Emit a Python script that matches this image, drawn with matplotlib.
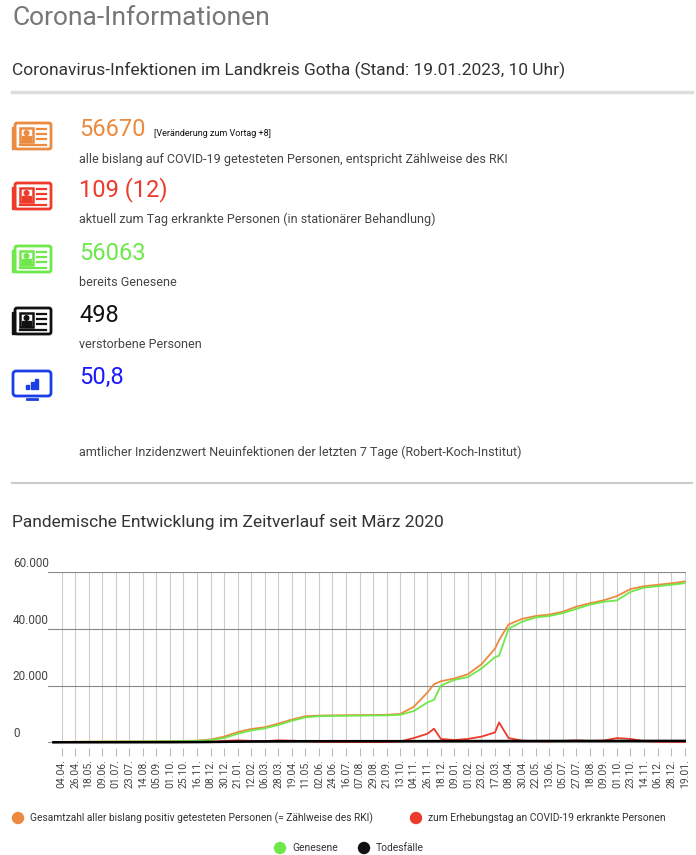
import matplotlib
matplotlib.use("Agg")
import matplotlib.pyplot as plt
from matplotlib.patches import FancyBboxPatch, Rectangle

plt.rcParams['font.family'] = ['Roboto', 'DejaVu Sans']

# x tick labels (category axis)
tick_labels = ['04.04.', '26.04.', '18.05.', '09.06.', '01.07.', '23.07.', '14.08.', '05.09.',
               '01.10.', '25.10.', '16.11.', '08.12.', '30.12.', '21.01.', '12.02.', '06.03.',
               '28.03.', '19.04.', '11.05.', '02.06.', '24.06.', '16.07.', '07.08.', '29.08.',
               '21.09.', '13.10.', '04.11.', '26.11.', '18.12.', '09.01.', '01.02.', '23.02.',
               '17.03.', '08.04.', '30.04.', '22.05.', '13.06.', '05.07.', '27.07.', '18.08.',
               '09.09.', '01.10.', '23.10.', '14.11.', '06.12.', '28.12.', '19.01.']

# series sampled at tick positions (index), first point a bit before 04.04.
pos = [-0.6, 0, 2, 4, 6, 8, 10, 11, 12, 13, 14, 15, 16, 17, 18, 19, 20, 22, 24, 25, 26,
       27, 27.5, 28, 29, 30, 31, 32, 32.3, 33, 34, 35, 36, 37, 38, 39, 40, 41, 42, 43, 44, 45, 46]
total = [50, 150, 250, 300, 350, 400, 600, 1000, 2000, 3600, 4700, 5300, 6600, 8000, 9200, 9400, 9500,
         9600, 9700, 10000, 12500, 17500, 20500, 21500, 22500, 24000, 27500, 33000, 36000, 41500, 43500,
         44500, 45000, 46000, 47800, 49000, 50000, 51500, 54000, 55000, 55500, 56000, 56670]
genesene = [0, 100, 200, 250, 300, 350, 500, 800, 1500, 3000, 4200, 4900, 6100, 7600, 8800, 9200, 9300,
            9400, 9500, 9700, 11000, 14000, 15000, 20000, 22000, 23000, 26000, 30000, 30500, 40000, 42500,
            44000, 44500, 45500, 47000, 48500, 49500, 50000, 53000, 54500, 55000, 55500, 56063]
aktiv = [100, 80, 60, 50, 50, 50, 100, 200, 500, 700, 500, 400, 700, 600, 400, 150, 150,
         100, 100, 300, 1500, 3000, 4800, 1200, 800, 1200, 2000, 3500, 7000, 1500, 600,
         400, 300, 500, 700, 500, 600, 1500, 1200, 400, 200, 150, 109]
tote = [0, 10, 20, 30, 40, 50, 80, 120, 180, 250, 300, 330, 360, 380, 390, 395, 400,
        400, 400, 405, 410, 415, 420, 425, 430, 435, 440, 445, 450, 455, 460,
        465, 470, 475, 478, 480, 482, 485, 495, 496, 497, 498, 498]

W, H = 696, 855
fig = plt.figure(figsize=(W / 100, H / 100), dpi=100)

# overlay axes in pixel coordinates for the info part
ov = fig.add_axes([0, 0, 1, 1])
ov.set_xlim(0, W)
ov.set_ylim(H, 0)
ov.axis('off')

ov.text(12, 18, 'Corona-Informationen', fontsize=19, color='#777777', va='center')
ov.text(12, 70, 'Coronavirus-Infektionen im Landkreis Gotha (Stand: 19.01.2023, 10 Uhr)',
        fontsize=12.5, color='#333333', va='center')
ov.plot([12, 692], [92, 92], color='#dddddd', lw=2.5)

def card_icon(x, y, color):
    ov.add_patch(FancyBboxPatch((x + 3, y), 36, 26, boxstyle='round,pad=0,rounding_size=2',
                                fill=False, ec=color, lw=2))
    ov.add_patch(Rectangle((x, y + 4), 3, 22, color=color))
    ov.add_patch(Rectangle((x + 8, y + 5), 13, 14, fill=False, ec=color, lw=1.8))
    ov.add_patch(Rectangle((x + 10, y + 13), 9, 5, color=color))
    ov.add_patch(plt.Circle((x + 14.5, y + 10), 2.3, color=color))
    for dy in (6, 11, 16):
        ov.plot([x + 25, x + 34], [y + dy, y + dy], color=color, lw=1.6)
    ov.plot([x + 8, x + 34], [y + 22, y + 22], color=color, lw=1.6)

entries = [
    ('56670', '#ec8a3f', 'alle bislang auf COVID-19 getesteten Personen, entspricht Zählweise des RKI', 130),
    ('109 (12)', '#ee3a2a', 'aktuell zum Tag erkrankte Personen (in stationärer Behandlung)', 190),
    ('56063', '#6ee84a', 'bereits Genesene', 253),
    ('498', '#111111', 'verstorbene Personen', 315),
]
for val, col, desc, y in entries:
    card_icon(12, y - 7, col)
    ov.text(79, y, val, fontsize=17, color=col, va='center')
    ov.text(79, y + 29, desc, fontsize=9, color='#444444', va='center')
ov.text(154, 133, '[Veränderung zum Vortag +8]', fontsize=6.5, color='#111111', va='center')

# monitor icon
ov.add_patch(FancyBboxPatch((13, 371), 38, 25, boxstyle='round,pad=0,rounding_size=3',
                            fill=False, ec='#1a3fe6', lw=2))
ov.plot([27, 37], [399, 399], color='#1a3fe6', lw=2)
for i, hgt in enumerate([4, 7, 10]):
    ov.add_patch(Rectangle((26 + i * 4.5, 389 - hgt), 3, hgt, color='#1a3fe6'))
ov.text(79, 377, '50,8', fontsize=17, color='#1a1aff', va='center')
ov.text(79, 452, 'amtlicher Inzidenzwert Neuinfektionen der letzten 7 Tage (Robert-Koch-Institut)',
        fontsize=9, color='#444444', va='center')
ov.plot([12, 692], [483, 483], color='#cccccc', lw=1.5)
ov.text(12, 522, 'Pandemische Entwicklung im Zeitverlauf seit März 2020', fontsize=12.5,
        color='#333333', va='center')

# legend
leg = [(18, 818, '#ec8a3f', 'Gesamtzahl aller bislang positiv getesteten Personen (= Zählweise des RKI)'),
       (416, 818, '#ee3a2a', 'zum Erhebungstag an COVID-19 erkrankte Personen'),
       (280, 848, '#6ee84a', 'Genesene'),
       (364, 848, '#111111', 'Todesfälle')]
for x, y, col, lab in leg:
    ov.add_patch(plt.Circle((x, y), 5.5, color=col))
    ov.text(x + 12, y, lab, fontsize=7.4, color='#333333', va='center')

# chart
y_top, y_bot = 572, 748
x_l, x_r = 48, 686
ax = fig.add_axes([x_l / W, 1 - y_bot / H, (x_r - x_l) / W, (y_bot - y_top) / H])
ax.set_xlim(-1, 46.1)
ax.set_ylim(-2000, 60000)
ax.set_zorder(2)
ax.patch.set_alpha(0)
for s in ax.spines.values():
    s.set_visible(False)
ax.set_xticks(range(len(tick_labels)))
ax.set_xticklabels(tick_labels, rotation=90, fontsize=7.5, color='#444444')
ax.tick_params(axis='x', length=6, color='#bbbbbb', pad=2)
ax.set_yticks([0, 20000, 40000, 60000])
ax.set_yticklabels([])
ax.tick_params(axis='y', length=0)
for i in range(len(tick_labels)):
    ax.axvline(i, ymin=(0 - -2000) / 62000, color='#cccccc', lw=0.8, zorder=0)
for v in [20000, 40000, 60000]:
    ax.axhline(v, color='#888888', lw=0.8, zorder=0)
ax.axhline(0, color='#999999', lw=0.8, zorder=0)
for v, lab in zip([0, 20000, 40000, 60000], ['0', '20.000', '40.000', '60.000']):
    ax.text(-0.055, v + 800, lab, transform=ax.get_yaxis_transform(), fontsize=8.5,
            color='#444444', va='bottom', ha='left')

ax.plot(pos, total, color='#ec8a3f', lw=1.3)
ax.plot(pos, genesene, color='#6ee84a', lw=1.3)
ax.plot(pos, aktiv, color='#ee3a2a', lw=1.3)
ax.plot(pos, tote, color='#000000', lw=1.8)

fig.savefig('out.png', dpi=100)
